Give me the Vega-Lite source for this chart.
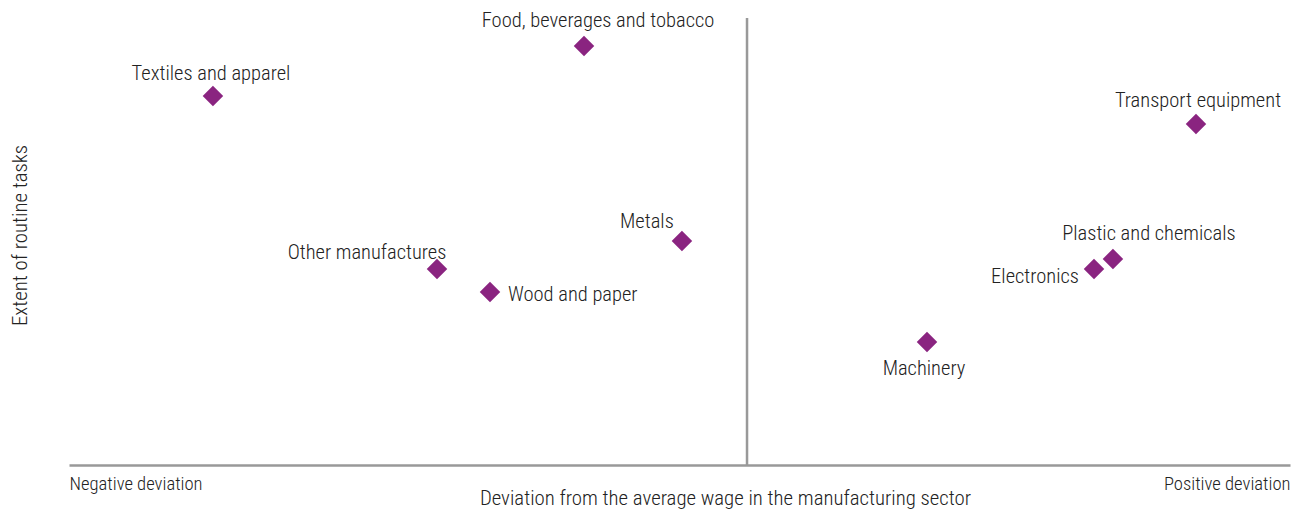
{
  "$schema": "https://vega.github.io/schema/vega-lite/v6.json",
  "width": 1221,
  "height": 447,
  "autosize": "none",
  "padding": {"left": 69, "top": 18, "right": 11, "bottom": 46},
  "background": "white",
  "config": {
    "view": {"stroke": null},
    "font": "Roboto Condensed, Liberation Sans Narrow, DejaVu Sans Condensed, sans-serif",
    "text": {"fontWeight": 300}
  },
  "data": {
    "values": [
      {"sector": "Textiles and apparel", "wage": 11.79, "routine": 82.55},
      {"sector": "Food, beverages and tobacco", "wage": 42.18, "routine": 93.74},
      {"sector": "Transport equipment", "wage": 92.3, "routine": 76.29},
      {"sector": "Metals", "wage": 50.2, "routine": 50.11},
      {"sector": "Plastic and chemicals", "wage": 85.5, "routine": 46.09},
      {"sector": "Electronics", "wage": 83.95, "routine": 43.85},
      {"sector": "Other manufactures", "wage": 30.14, "routine": 43.85},
      {"sector": "Wood and paper", "wage": 34.48, "routine": 38.7},
      {"sector": "Machinery", "wage": 70.27, "routine": 27.52}
    ]
  },
  "encoding": {
    "x": {"field": "wage", "type": "quantitative", "scale": {"domain": [0, 100], "nice": false, "zero": false},
      "axis": {"title": "Deviation from the average wage in the manufacturing sector", "titleFontSize": 20.8, "titleFontWeight": 300, "titleColor": "#222", "titleBaseline": "alphabetic", "titleAlign": "center", "titleX": 656, "titleY": 39,
        "values": [0, 100], "labelExpr": "datum.value == 0 ? 'Negative deviation' : 'Positive deviation'", "labelAlign": {"expr": "datum.value == 0 ? 'left' : 'right'"}, "labelFontSize": 18.6, "labelFontWeight": 300, "labelColor": "#222", "labelPadding": 9, "labelFlush": false,
        "ticks": false, "grid": false, "domainColor": "#999999", "domainWidth": 2.5}},
    "y": {"field": "routine", "type": "quantitative", "scale": {"domain": [0, 100], "nice": false, "zero": false},
      "axis": {"title": "Extent of routine tasks", "titleFontSize": 20.8, "titleFontWeight": 300, "titleColor": "#222", "titleX": -49, "titleY": 217, "titleAngle": -90, "titleBaseline": "middle", "titleAlign": "center", "labels": false, "ticks": false, "grid": false, "domain": false}}
  },
  "layer": [
    {
      "data": {"values": [{"x": 55.53, "y0": 0, "y1": 100}]},
      "mark": {"type": "rule", "color": "#999999", "strokeWidth": 2.5},
      "encoding": {"x": {"field": "x", "type": "quantitative"}, "y": {"field": "y0", "type": "quantitative"}, "y2": {"field": "y1"}}
    },
    {
      "mark": {"type": "point", "shape": "diamond", "filled": true, "size": 420, "color": "#8a2480", "opacity": 1}
    },
    {
      "transform": [{"filter": "datum.sector == 'Textiles and apparel'"}],
      "mark": {"type": "text", "fontSize": 20.5, "color": "#222", "dy": -22.5, "dx": -2},
      "encoding": {"text": {"field": "sector"}}
    },
    {
      "transform": [{"filter": "datum.sector == 'Transport equipment'"}],
      "mark": {"type": "text", "fontSize": 20.5, "color": "#222", "dy": -22.5, "dx": 2},
      "encoding": {"text": {"field": "sector"}}
    },
    {
      "transform": [{"filter": "datum.sector == 'Food, beverages and tobacco'"}],
      "mark": {"type": "text", "fontSize": 20.5, "color": "#222", "dy": -24.5, "dx": 14},
      "encoding": {"text": {"field": "sector"}}
    },
    {
      "transform": [{"filter": "datum.sector == 'Metals'"}],
      "mark": {"type": "text", "fontSize": 20.5, "color": "#222", "dy": -19.5, "dx": -35},
      "encoding": {"text": {"field": "sector"}}
    },
    {
      "transform": [{"filter": "datum.sector == 'Plastic and chemicals'"}],
      "mark": {"type": "text", "fontSize": 20.5, "color": "#222", "dy": -24.5, "dx": 36},
      "encoding": {"text": {"field": "sector"}}
    },
    {
      "transform": [{"filter": "datum.sector == 'Other manufactures'"}],
      "mark": {"type": "text", "fontSize": 20.5, "color": "#222", "dy": -15.5, "dx": -70},
      "encoding": {"text": {"field": "sector"}}
    },
    {
      "transform": [{"filter": "datum.sector == 'Electronics'"}],
      "mark": {"type": "text", "fontSize": 20.5, "color": "#222", "dy": 8, "dx": -15, "align": "right"},
      "encoding": {"text": {"field": "sector"}}
    },
    {
      "transform": [{"filter": "datum.sector == 'Wood and paper'"}],
      "mark": {"type": "text", "fontSize": 20.5, "color": "#222", "dy": 2.5, "dx": 18, "align": "left"},
      "encoding": {"text": {"field": "sector"}}
    },
    {
      "transform": [{"filter": "datum.sector == 'Machinery'"}],
      "mark": {"type": "text", "fontSize": 20.5, "color": "#222", "dy": 27, "dx": -3},
      "encoding": {"text": {"field": "sector"}}
    }
  ]
}
